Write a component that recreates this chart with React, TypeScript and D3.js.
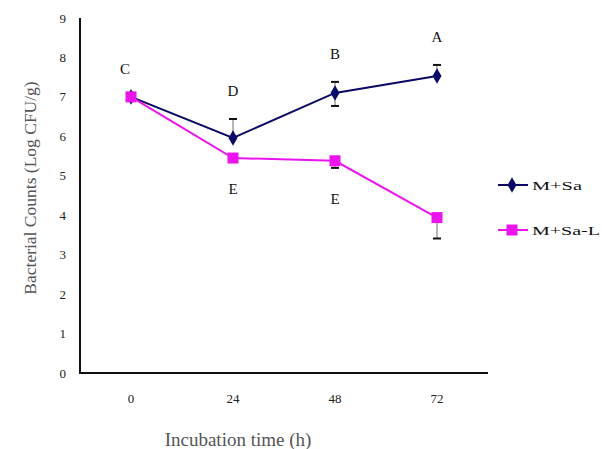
import React, { useEffect, useRef } from 'react';
import * as d3 from 'd3';

// incubation times (h) on the x axis
const times = ['0', '24', '48', '72'];
const yTicks = [0, 1, 2, 3, 4, 5, 6, 7, 8, 9];

// bacterial counts, log CFU/g
const sa = [7.0, 5.96, 7.1, 7.53];
const saL = [7.0, 5.45, 5.38, 3.94];

// error bars (up / down)
const saErrUp = [0, 0.48, 0.28, 0.28];
const saErrDown = [0, 0, 0.33, 0];
const saLErrUp = [0, 0, 0, 0];
const saLErrDown = [0, 0, 0.18, 0.53];

// significance letters
const saLetters = ['C', 'D', 'B', 'A'];
const saLLetters = ['', 'E', 'E', ''];

const seriesNames = ['M+Sa', 'M+Sa-L'];

const W = 602, H = 449;
const BLUE = '#0a0a66';
const PINK = '#ec14ec';
const FONT = '"Liberation Serif", "Times New Roman", serif';

export default function App() {
  const ref = useRef<SVGSVGElement>(null);

  useEffect(() => {
    const svg = d3.select(ref.current);
    svg.selectAll('*').remove();

    const left = 80, right = 488, top = 18, bottom = 373;

    const x = d3.scaleBand<string>().domain(times).range([left, right]);
    const y = d3.scaleLinear().domain([0, 9]).range([bottom, top]);
    const cx = (t: string) => (x(t) as number) + x.bandwidth() / 2;

    // axes
    svg.append('line')
      .attr('x1', left).attr('x2', left).attr('y1', top).attr('y2', bottom)
      .attr('stroke', '#111').attr('stroke-width', 2);
    svg.append('line')
      .attr('x1', left - 1).attr('x2', right).attr('y1', bottom).attr('y2', bottom)
      .attr('stroke', '#111').attr('stroke-width', 2);

    // y tick labels
    svg.append('g').selectAll('text')
      .data(yTicks)
      .enter().append('text')
      .attr('x', 66)
      .attr('y', (d) => y(d))
      .attr('dy', '0.35em')
      .attr('text-anchor', 'end')
      .attr('font-family', FONT)
      .attr('font-size', 13)
      .attr('fill', '#222')
      .text((d) => d);

    // x tick labels
    svg.append('g').selectAll('text')
      .data(times)
      .enter().append('text')
      .attr('x', (d) => cx(d))
      .attr('y', 398)
      .attr('dy', '0.35em')
      .attr('text-anchor', 'middle')
      .attr('font-family', FONT)
      .attr('font-size', 13)
      .attr('fill', '#222')
      .text((d) => d);

    // axis titles
    svg.append('text')
      .attr('x', 238)
      .attr('y', 439)
      .attr('dy', '0.35em')
      .attr('text-anchor', 'middle')
      .attr('font-family', FONT)
      .attr('font-size', 19)
      .attr('fill', '#555')
      .text('Incubation time (h)');

    svg.append('text')
      .attr('transform', 'translate(30,188) rotate(-90)')
      .attr('dy', '0.35em')
      .attr('text-anchor', 'middle')
      .attr('font-family', FONT)
      .attr('font-size', 17.5)
      .attr('fill', '#555')
      .text('Bacterial Counts (Log CFU/g)');

    const line = d3.line<number>()
      .x((d, i) => cx(times[i]))
      .y((d) => y(d));

    const drawErr = (vals: number[], up: number[], down: number[], color: string) => {
      vals.forEach((v, i) => {
        if (!up[i] && !down[i]) return;
        const px = cx(times[i]);
        const y1 = y(v + up[i]), y2 = y(v - down[i]);
        const g = svg.append('g').attr('stroke', color);
        g.append('line').attr('x1', px).attr('x2', px).attr('y1', y1).attr('y2', y2)
          .attr('stroke-width', 1).attr('stroke-opacity', 0.6);
        if (up[i]) g.append('line').attr('x1', px - 4).attr('x2', px + 4).attr('y1', y1).attr('y2', y1).attr('stroke-width', 2);
        if (down[i]) g.append('line').attr('x1', px - 4).attr('x2', px + 4).attr('y1', y2).attr('y2', y2).attr('stroke-width', 2);
      });
    };

    const diamond = d3.symbol().type(d3.symbolDiamond).size(70);

    // M+Sa (navy, diamonds)
    drawErr(sa, saErrUp, saErrDown, '#111');
    svg.append('path')
      .attr('d', line(sa) as string)
      .attr('fill', 'none').attr('stroke', BLUE).attr('stroke-width', 2);
    svg.append('g').selectAll('path')
      .data(sa)
      .enter().append('path')
      .attr('d', diamond as any)
      .attr('transform', (d, i) => 'translate(' + cx(times[i]) + ',' + y(d) + ')')
      .attr('fill', BLUE);

    // M+Sa-L (pink, squares) drawn on top
    drawErr(saL, saLErrUp, saLErrDown, '#111');
    svg.append('path')
      .attr('d', line(saL) as string)
      .attr('fill', 'none').attr('stroke', PINK).attr('stroke-width', 2);
    svg.append('g').selectAll('rect')
      .data(saL)
      .enter().append('rect')
      .attr('x', (d, i) => cx(times[i]) - 5.5)
      .attr('y', (d) => y(d) - 5.5)
      .attr('width', 11).attr('height', 11)
      .attr('fill', PINK);

    // letters
    svg.append('g').selectAll('text')
      .data(saLetters)
      .enter().append('text')
      .attr('x', (d, i) => cx(times[i]) - (i === 0 ? 6 : 0))
      .attr('y', (d, i) => y(sa[i] + saErrUp[i]) - 28)
      .attr('dy', '0.35em')
      .attr('text-anchor', 'middle')
      .attr('font-family', FONT)
      .attr('font-size', 15)
      .attr('fill', '#111')
      .text((d) => d);
    svg.append('g').selectAll('text')
      .data(saLLetters)
      .enter().append('text')
      .attr('x', (d, i) => cx(times[i]))
      .attr('y', (d, i) => y(saL[i] - saLErrDown[i]) + 31)
      .attr('dy', '0.35em')
      .attr('text-anchor', 'middle')
      .attr('font-family', FONT)
      .attr('font-size', 15)
      .attr('fill', '#111')
      .text((d) => d);

    // legend
    const legend = svg.append('g');
    [BLUE, PINK].forEach((color, i) => {
      const ly = 185 + i * 45;
      legend.append('line')
        .attr('x1', 498).attr('x2', 528).attr('y1', ly).attr('y2', ly)
        .attr('stroke', color).attr('stroke-width', 2);
      if (i === 0) {
        legend.append('path').attr('d', diamond as any)
          .attr('transform', 'translate(512,' + ly + ')').attr('fill', color);
      } else {
        legend.append('rect').attr('x', 506.5).attr('y', ly - 5.5)
          .attr('width', 11).attr('height', 11).attr('fill', color);
      }
      legend.append('text')
        .attr('x', 532).attr('y', ly)
        .attr('dy', '0.35em')
        .attr('font-family', FONT)
        .attr('font-size', 13)
        .attr('textLength', i === 0 ? 50 : 68)
        .attr('lengthAdjust', 'spacingAndGlyphs')
        .attr('fill', '#111')
        .text(seriesNames[i]);
    });
  }, []);

  return (
    <svg ref={ref} width={W} height={H}
      style={{ position: 'absolute', left: 0, top: 0, background: '#fff' }} />
  );
}
